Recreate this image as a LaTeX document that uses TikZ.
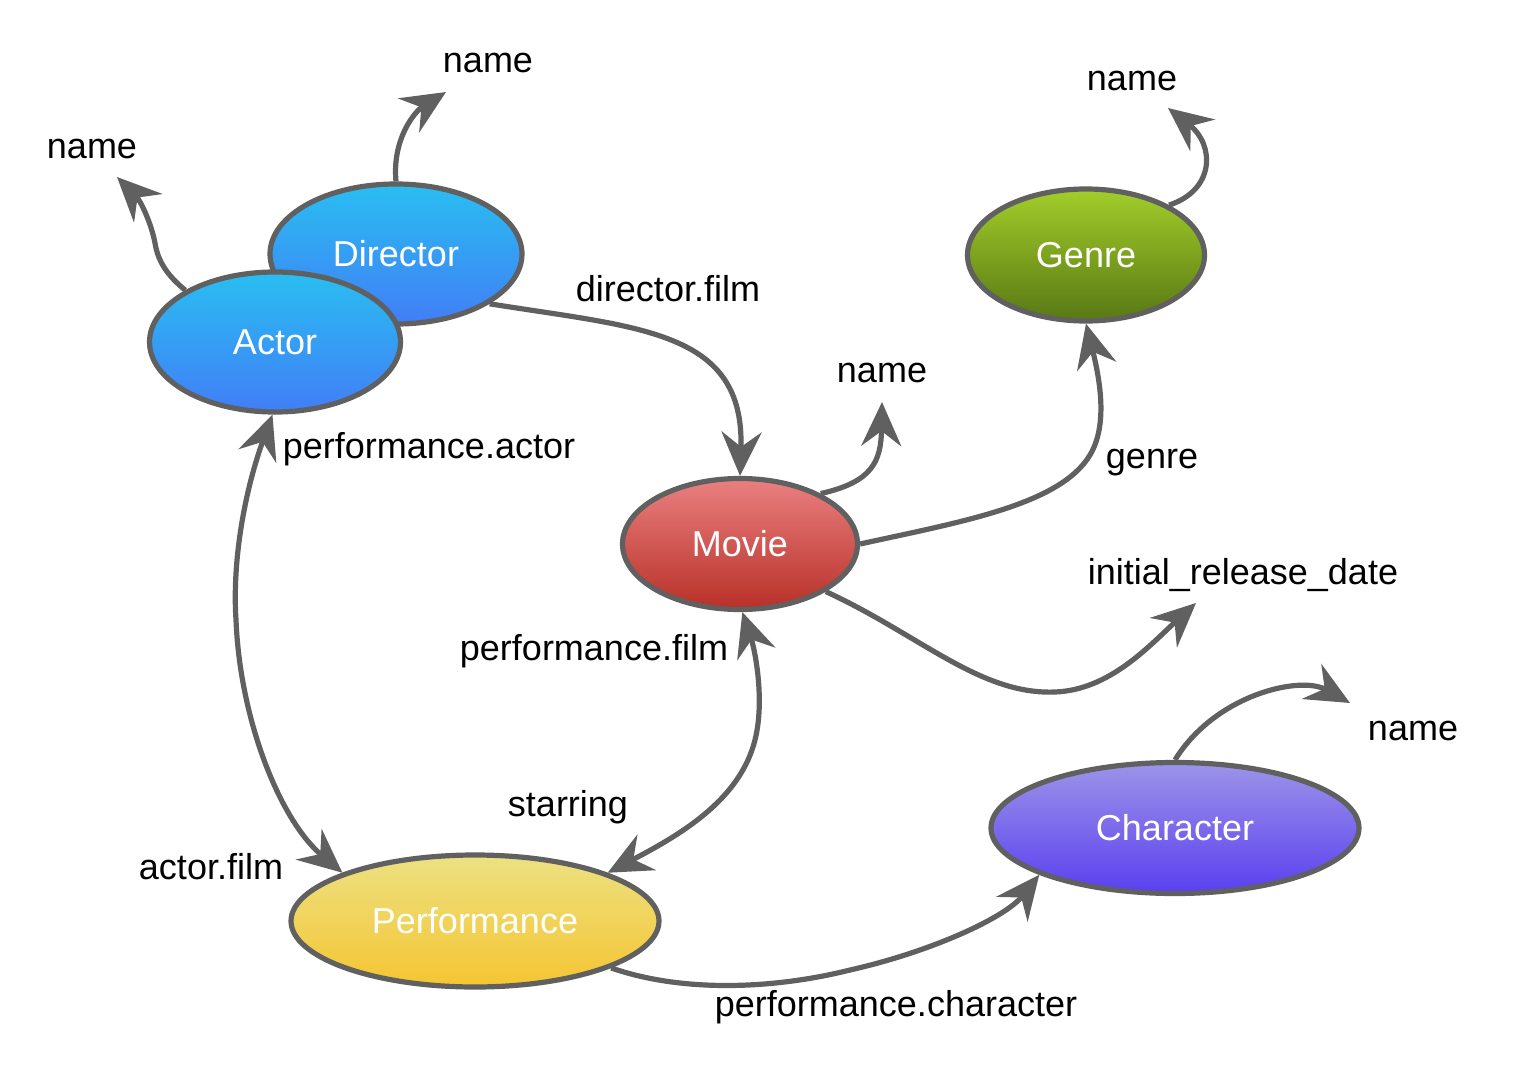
\documentclass[tikz,border=0pt]{standalone}
\usepackage{fontspec}
\setmainfont{Liberation Sans}
\usetikzlibrary{shapes.geometric,arrows.meta}
\definecolor{edgegray}{HTML}{606060}
\definecolor{blueTop}{HTML}{29BEF1}
\definecolor{blueBot}{HTML}{417EF6}
\definecolor{greenTop}{HTML}{A2CE2A}
\definecolor{greenBot}{HTML}{587814}
\definecolor{redTop}{HTML}{EA8080}
\definecolor{redBot}{HTML}{B83028}
\definecolor{yellowTop}{HTML}{ECE182}
\definecolor{yellowBot}{HTML}{F5C532}
\definecolor{purpleTop}{HTML}{9C94E8}
\definecolor{purpleBot}{HTML}{5A3FF0}
\begin{document}
\begin{tikzpicture}[x=0.5pt,y=-0.5pt,
  ent/.style={ellipse, draw=edgegray, line width=2.6pt, inner sep=0pt,
    font=\fontsize{18}{20}\selectfont, text=white},
  lbl/.style={font=\fontsize{18}{20}\selectfont, text=black, inner sep=0pt},
  conn/.style={draw=edgegray, line width=2.6pt,
    -{Stealth[length=22pt,width=20pt,inset=7.5pt]}},
  dconn/.style={draw=edgegray, line width=2.6pt,
    {Stealth[length=22pt,width=20pt,inset=7.5pt]}-{Stealth[length=22pt,width=20pt,inset=7.5pt]}},
]
\useasboundingbox (0,0) rectangle (1522,1082);

% entities
\node[ent, minimum width=126pt, minimum height=70pt, top color=blueTop, bottom color=blueBot] (director) at (396,254) {\raisebox{-1pt}{Director}};
\node[ent, minimum width=125.5pt, minimum height=70pt, top color=blueTop, bottom color=blueBot] (actor) at (275,342) {\raisebox{-1pt}{Actor}};
\node[ent, minimum width=118.5pt, minimum height=66pt, top color=greenTop, bottom color=greenBot] (genre) at (1086,255) {\raisebox{-1pt}{Genre}};
\node[ent, minimum width=117.5pt, minimum height=65.5pt, top color=redTop, bottom color=redBot] (movie) at (740,544) {\raisebox{-1pt}{Movie}};
\node[ent, minimum width=184pt, minimum height=66pt, top color=yellowTop, bottom color=yellowBot] (performance) at (475,921) {\raisebox{-1pt}{Performance}};
\node[ent, minimum width=184pt, minimum height=65.5pt, top color=purpleTop, bottom color=purpleBot] (character) at (1175,828) {\raisebox{-1pt}{Character}};

% free ends
\coordinate (dn) at (446,92);
\coordinate (an) at (117,177);
\coordinate (mn) at (882,402);
\coordinate (gn) at (1168,108);
\coordinate (rd) at (1196,603);
\coordinate (cn) at (1350,703);

% labels
\node[lbl] (ldn) at (488,63) {name};
\node[lbl] (lan) at (92,149) {name};
\node[lbl] (ldf) at (668,289) {director.film};
\node[lbl] (lmn) at (882,373) {name};
\node[lbl] (lgn) at (1132,81) {name};
\node[lbl] (lg) at (1152,463) {genre};
\node[lbl] (lrd) at (1243,575) {initial\_release\_date};
\node[lbl] (lpa) at (429,449) {performance.actor};
\node[lbl] (laf) at (211,867) {actor.film};
\node[lbl] (lpf) at (594,651) {performance.film};
\node[lbl] (lst) at (568,807) {starring};
\node[lbl] (lpc) at (896,1007) {performance.character};
\node[lbl] (lcn) at (1413,731) {name};

% connectors
\draw[conn] (director.north) .. controls (392,140) and (414,112) .. (dn);
\draw[conn] (actor.150) .. controls (168,276) and (158,262) .. (155,243)
  .. controls (151,222) and (140,200) .. (an);
\draw[conn] (director.-28) .. controls (640,328) and (745,330) .. (movie.north);
\draw[conn] (movie.32) .. controls (872,482) and (881,462) .. (mn);
\draw[conn] (movie.east) .. controls (960,522) and (1060,505) .. (1090,455)
  .. controls (1108,425) and (1100,380) .. (genre.south);
\draw[conn] (genre.31) .. controls (1215,190) and (1215,145) .. (gn);
\draw[conn] (movie.-29) .. controls (920,635) and (980,695) .. (1055,692)
  .. controls (1110,690) and (1150,645) .. (rd);
\draw[dconn] (actor.-92) .. controls (245,490) and (232,560) .. (236,620)
  .. controls (240,720) and (280,820) .. (performance.160);
\draw[dconn] (movie.-88) .. controls (755,650) and (765,700) .. (755,740)
  .. controls (740,800) and (680,835) .. (performance.20);
\draw[conn] (performance.-19) .. controls (680,992) and (770,990) .. (850,970)
  .. controls (930,952) and (1005,918) .. (character.199);
\draw[conn] (character.north) .. controls (1215,695) and (1300,675) .. (cn);
\end{tikzpicture}
\end{document}
